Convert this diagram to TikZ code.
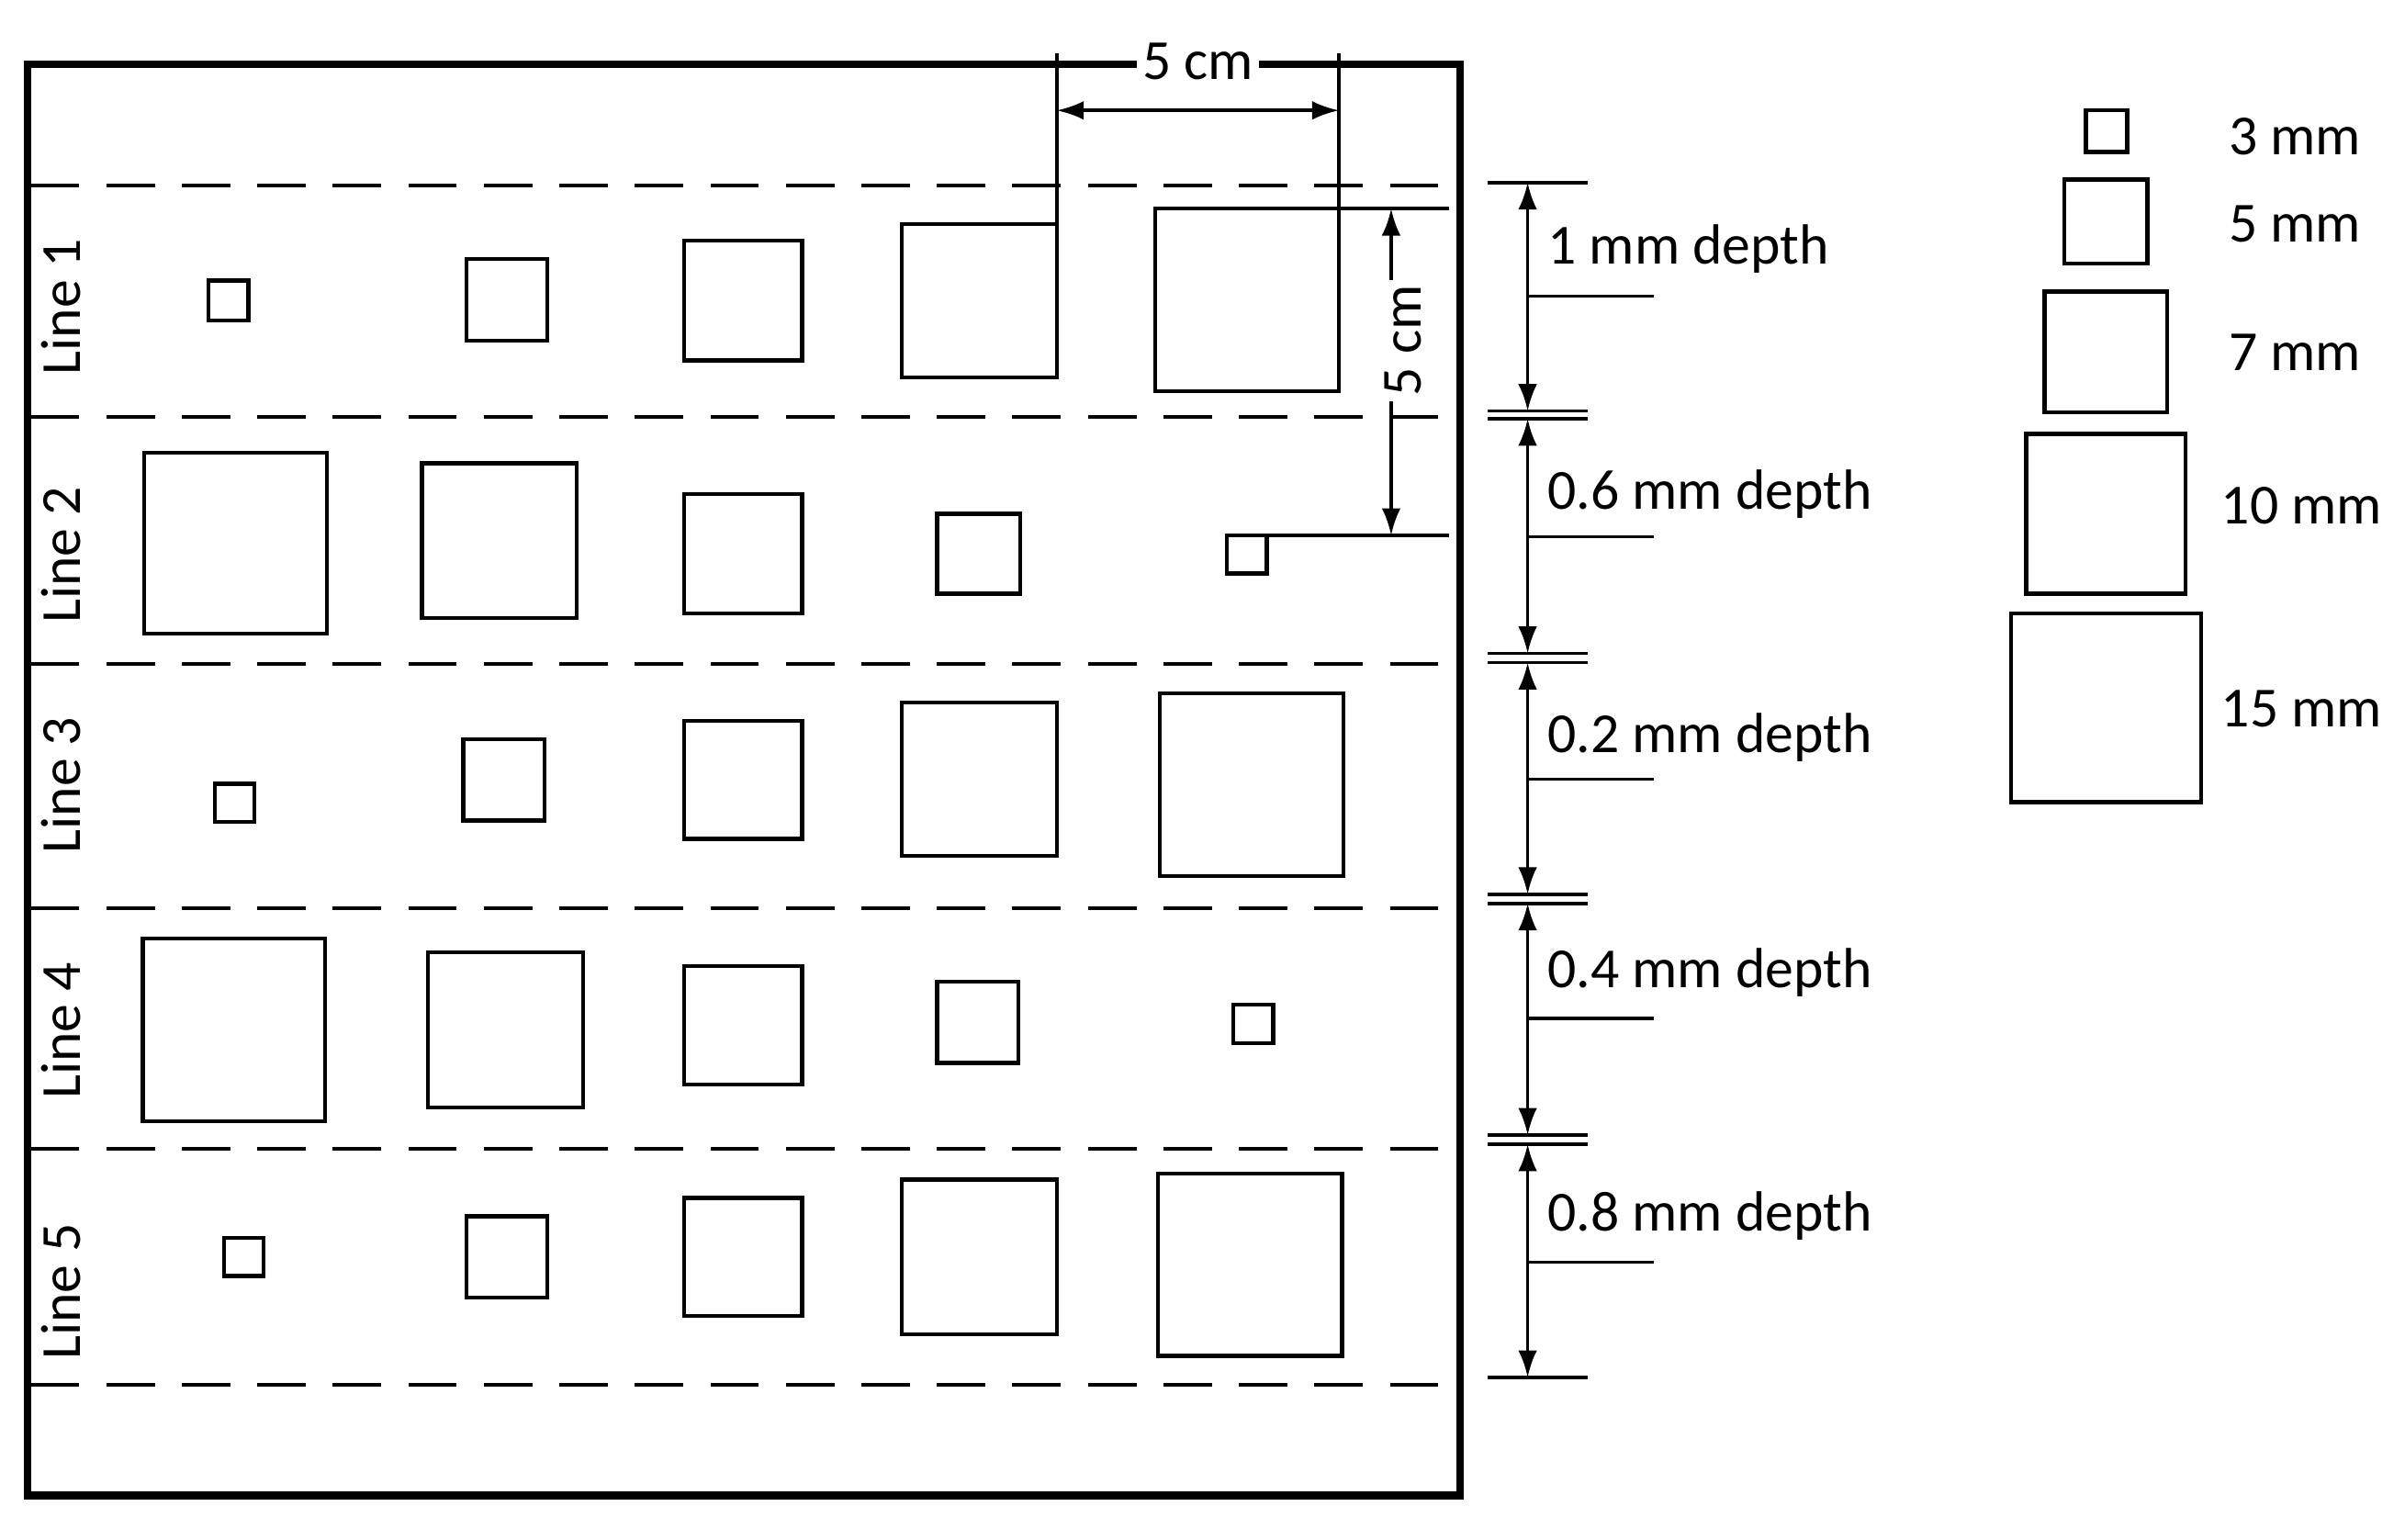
\documentclass[tikz,border=0pt]{standalone}
\usepackage{fontspec}
\setmainfont{Carlito}
\usetikzlibrary{arrows.meta}
\tikzset{
  ln/.style={line width=0.6pt},
  sq/.style={line width=0.75pt},
  dsh/.style={line width=0.75pt,dash pattern=on 9pt off 5pt},
  dim/.style={line width=0.6pt,{Latex[length=5pt,width=3.5pt]}-{Latex[length=5pt,width=3.5pt]}},
  lbl/.style={font=\fontsize{10.5}{12}\selectfont,inner sep=1pt},
}
\begin{document}
\begin{tikzpicture}[x=0.01cm,y=-0.01cm]
\useasboundingbox (0,0) rectangle (1568,1004);
% frame
\draw[line width=1.4pt] (18,42) rectangle (952,975);
\foreach \y in {121,272,433,592,749,903} \draw[dsh] (20,\y) -- (950,\y);
% line labels
\foreach \t/\y in {1/200,2/362,3/512,4/672,5/842}
  \node[lbl,rotate=90] at (40,\y) {Line \t};
% squares
\foreach \a/\b/\c/\d in {
 136/183/162/209, 304/169/357/222, 446/157/523/235, 588/146/689/246, 753/136/873/255,
 94/295/213/413, 275/302/376/403, 446/322/523/400, 611/335/665/387, 800/349/826/374,
 140/511/166/536, 302/482/355/535, 446/470/523/547, 588/458/689/558, 756/452/876/571,
 93/612/212/731, 279/621/380/722, 446/630/523/707, 611/640/664/693, 804/655/830/680,
 146/807/172/832, 304/793/357/846, 446/781/523/858, 588/769/689/870, 755/765/875/884}
  \draw[sq] (\a,\b) rectangle (\c,\d);
% top dimension
\coordinate (t1) at (689,35); \coordinate (t2) at (873,35);
\draw[ln] (t1) -- (689,146); \draw[ln] (t2) -- (873,136);
\coordinate (ta) at (689,72); \coordinate (tb) at (873,72);
\draw[dim] (ta) -- (tb);
\node[lbl,fill=white] (top) at (781,40) {5 cm};
% right dimension
\draw[ln] (873,136) -- (945,136);
\draw[ln] (826,349) -- (945,349);
\coordinate (ra) at (907,136); \coordinate (rb) at (907,349);
\draw[dim] (ra) -- (rb);
\node[lbl,fill=white,rotate=90] (rgt) at (915,222) {5 cm};
% depth dimension ticks
\foreach \y in {119,268,273,426,432,583,589,740,746,898} \draw[ln] (970,\y) -- (1035,\y);
\foreach \p/\q in {119/268,273/426,432/583,589/740,746/898}
  \draw[dim] (996,\p) -- (996,\q);
\foreach \y in {193,350,508,664,823} \draw[ln] (996,\y) -- (1078,\y);
\foreach \t/\y in {1 mm depth/162,0.6 mm depth/322,0.2 mm depth/481,0.4 mm depth/634,0.8 mm depth/793}
  \node[lbl,anchor=west] at (1005,\y) {\t};
% legend
\draw[sq] (1360,72) rectangle (1387,99);
\draw[sq] (1346,117) rectangle (1400,172);
\draw[sq] (1333,190) rectangle (1413,269);
\draw[sq] (1321,283) rectangle (1425,387);
\draw[sq] (1311,400) rectangle (1435,523);
\node[lbl,anchor=west] at (1449,89) {3 mm};
\node[lbl,anchor=west] at (1449,146) {5 mm};
\node[lbl,anchor=west] at (1449,230) {7 mm};
\node[lbl,anchor=west] at (1444,330) {10 mm};
\node[lbl,anchor=west] at (1444,462) {15 mm};
\end{tikzpicture}
\end{document}
